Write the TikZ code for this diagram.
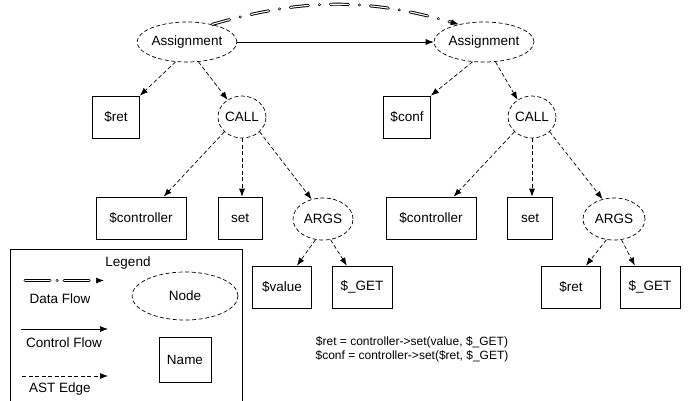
\documentclass[tikz,border=0pt]{standalone}
\usepackage{fontspec}
\setmainfont{Liberation Sans}
\usetikzlibrary{arrows.meta,calc,shapes.geometric}
\begin{document}
\begin{tikzpicture}[x=1pt,y=-1pt,line width=0.7pt,
  every node/.style={font=\fontsize{13.5}{16}\selectfont},
  ell/.style={draw, dash pattern=on 4pt off 2.5pt, ellipse, inner sep=0pt},
  box/.style={draw, rectangle, inner sep=0pt, minimum height=42pt},
  tip/.style={-{Latex[length=8pt,width=6pt]}},
  ast/.style={draw, dash pattern=on 4pt off 2.5pt, tip},
  ctl/.style={draw, tip},
  dfo/.style={line width=3pt, line cap=round, shorten >=8pt},
  dfi/.style={white, line width=1.1pt, line cap=round, shorten >=8pt},
  arcdash/.style={dash pattern=on 18pt off 11pt on 0.1pt off 11pt},
  legdash/.style={dash pattern=on 25pt off 7pt on 0.1pt off 7pt},
  codefont/.style={font=\fontsize{12}{14}\selectfont, align=center}]
\useasboundingbox (0,0) rectangle (692,400);

% left tree
\node[ell, minimum width=96pt, minimum height=40pt] (A1) at (187,42) {Assignment};
\node[box, minimum width=47pt] (ret1) at (116,117) {\$ret};
\node[ell, minimum width=48pt, minimum height=42pt] (call1) at (242,117) {CALL};
\node[box, minimum width=90pt] (ctrl1) at (141,218) {\$controller};
\node[box, minimum width=44pt] (set1) at (240,218) {set};
\node[ell, minimum width=60pt, minimum height=42pt] (args1) at (323,219) {ARGS};
\node[box, minimum width=59pt] (val1) at (282,287) {\$value};
\node[box, minimum width=60pt] (get1) at (362,287) {\$\_GET};

% right tree
\node[ell, minimum width=100pt, minimum height=40pt] (A2) at (484,42) {Assignment};
\node[box, minimum width=47pt] (conf2) at (407,117) {\$conf};
\node[ell, minimum width=48pt, minimum height=42pt] (call2) at (532,117) {CALL};
\node[box, minimum width=90pt] (ctrl2) at (431,218) {\$controller};
\node[box, minimum width=45pt] (set2) at (530,218) {set};
\node[ell, minimum width=62pt, minimum height=42pt] (args2) at (614,219) {ARGS};
\node[box, minimum width=59pt] (ret2) at (571,287) {\$ret};
\node[box, minimum width=60pt] (get2) at (650,287) {\$\_GET};

% control flow
\draw[ctl] (A1.east) -- (A2.west);
% data flow (double dash-dot line)
\draw[dfo, arcdash] (A1.35) to[bend left=16] (A2.145);
\draw[dfi, arcdash] (A1.35) to[bend left=16] (A2.145);
\path (A1.35) to[bend left=16] coordinate[pos=0.967] (dfm) (A2.145);
\draw[ctl] (dfm) -- (A2.145);

% AST edges left
\draw[ast] (A1.240) -- (ret1.north east);
\draw[ast] (A1.300) -- (call1.130);
\draw[ast] (call1.220) -- ($(ctrl1.north)!0.5!(ctrl1.north east)$);
\draw[ast] (call1.south) -- (call1.south |- set1.north);
\draw[ast] (call1.320) -- (args1.120);
\draw[ast] (args1.250) -- ($(val1.north)!0.5!(val1.north east)$);
\draw[ast] (args1.290) -- ($(get1.north)!0.5!(get1.north west)$);

% AST edges right
\draw[ast] (A2.240) -- (conf2.north east);
\draw[ast] (A2.300) -- (call2.130);
\draw[ast] (call2.220) -- ($(ctrl2.north)!0.5!(ctrl2.north east)$);
\draw[ast] (call2.south) -- (call2.south |- set2.north);
\draw[ast] (call2.320) -- (args2.120);
\draw[ast] (args2.250) -- ($(ret2.north)!0.5!(ret2.north east)$);
\draw[ast] (args2.290) -- ($(get2.north)!0.5!(get2.north west)$);

% code
\node[codefont] (code) at (412,349) {\$ret = controller->set(value, \$\_GET)\\\$conf = controller->set(\$ret, \$\_GET)};

% legend
\coordinate (lgA) at (10,402);
\coordinate (lgB) at (10,249);
\coordinate (lgC) at (242,249);
\coordinate (lgD) at (242,402);
\draw (lgA) -- (lgB) -- (lgC) -- (lgD);
\node (legt) at (128,263) {Legend};
\coordinate (df1) at (25,280.5);
\coordinate (df2) at (104,280.5);
\coordinate (dfl) at (95.5,280.5);
\draw[dfo, legdash] (df1) -- (df2);
\draw[dfi, legdash] (df1) -- (df2);
\draw[ctl] (dfl) -- (df2);
\node (dft) at (60,299) {Data Flow};
\coordinate (cf1) at (21,329);
\coordinate (cf2) at (108,329);
\draw[ctl] (cf1) -- (cf2);
\node (cft) at (64,343) {Control Flow};
\coordinate (ae1) at (22,376);
\coordinate (ae2) at (108,376);
\draw[ast] (ae1) -- (ae2);
\node (aet) at (60,389) {AST Edge};
\node[ell, minimum width=106pt, minimum height=48pt] (lnode) at (185,296) {Node};
\node[box, minimum width=52pt, minimum height=45pt] (lname) at (185,360) {Name};
\end{tikzpicture}
\end{document}
